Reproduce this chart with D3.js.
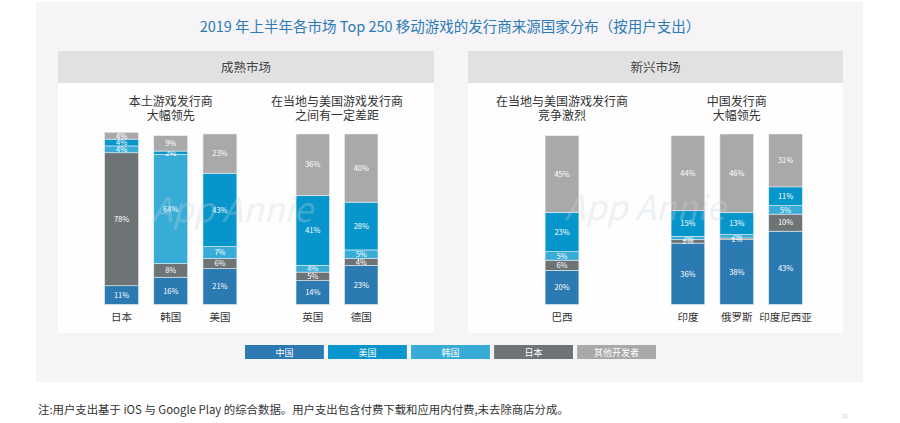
<!DOCTYPE html>
<html><head><meta charset="utf-8">
<script src="https://cdn.jsdelivr.net/npm/d3@7/dist/d3.min.js"></script>
<style>body{margin:0;background:#fff;} text{font-family:"Noto Sans CJK SC","Noto Sans",sans-serif;}</style>
</head><body>
<svg id="c" width="900" height="423"></svg>
<script>
const title = "2019 年上半年各市场 Top 250 移动游戏的发行商来源国家分布（按用户支出）";
const sections = ["成熟市场", "新兴市场"];
const groupTitles = [["本土游戏发行商","大幅领先"],["在当地与美国游戏发行商","之间有一定差距"],["在当地与美国游戏发行商","竞争激烈"],["中国发行商","大幅领先"]];
const groupCats = [["日本","韩国","美国"],["英国","德国"],["巴西"],["印度","俄罗斯","印度尼西亚"]];
const categories = ["日本","韩国","美国","英国","德国","巴西","印度","俄罗斯","印度尼西亚"];
const seriesNames = ["中国","日本","韩国","美国","其他开发者"];
const china = [11,16,21,14,23,20,36,38,43];
const japan = [78,8,6,5,4,6,2,1,10];
const korea = [4,64,7,4,5,5,2,2,5];
const usa   = [4,2,43,41,28,23,15,13,11];
const other = [4,9,23,36,40,45,44,46,31];
const legendNames = ["中国","美国","韩国","日本","其他开发者"];
const footnote = "注:用户支出基于 iOS 与 Google Play 的综合数据。用户支出包含付费下载和应用内付费,未去除商店分成。";

const colors = {"中国":"#2b7ab1","美国":"#0796cb","韩国":"#37acd7","日本":"#6e7476","其他开发者":"#a9a9a9"};
const svg = d3.select("#c");

svg.append("rect").attr("x",36).attr("y",2).attr("width",827).attr("height",380).attr("fill","#f6f4f6");
svg.append("text").attr("x",450).attr("y",32).attr("text-anchor","middle").attr("font-size",14.5).attr("fill","#2b7bb9").text(title);

const panels = [{x0:58,x1:434},{x0:468,x1:843}];
panels.forEach((p,i)=>{
  svg.append("rect").attr("x",p.x0).attr("y",83).attr("width",p.x1-p.x0).attr("height",250).attr("fill","#fefefe");
  svg.append("rect").attr("x",p.x0).attr("y",51).attr("width",p.x1-p.x0).attr("height",32).attr("fill","#e1e1e1");
  svg.append("text").attr("x",(p.x0+p.x1)/2).attr("y",72).attr("text-anchor","middle").attr("font-size",12.5).attr("fill","#444").text(sections[i]);
});

const y = d3.scaleLinear().domain([0,100]).range([304.5,134]);
const groupCenters = [[121.5,220],[313,361],[562,562],[688,785.5]];
const step = 49;
const xPos = {};
const bw = {};
groupCats.forEach((cats,gi)=>{
  const [c0,c1] = groupCenters[gi];
  const sc = d3.scaleBand().domain(cats).range([c0-step/2, c1+step/2]).paddingInner(0.31).paddingOuter(0.155);
  cats.forEach(c=>{ xPos[c]=sc(c); bw[c]=sc.bandwidth(); });
  const cx = (c0+c1)/2;
  groupTitles[gi].forEach((t,k)=>{
    svg.append("text").attr("x",cx).attr("y",106+k*14).attr("text-anchor","middle").attr("font-size",12).attr("fill","#333").text(t);
  });
});

const rows = categories.map((c,i)=>({cat:c,"中国":china[i],"日本":japan[i],"韩国":korea[i],"美国":usa[i],"其他开发者":other[i]}));
const stack = d3.stack().keys(seriesNames)(rows);
stack.forEach(layer=>{
  const g = svg.append("g");
  layer.forEach(d=>{
    const c = d.data.cat;
    g.append("rect").attr("x",xPos[c]).attr("width",bw[c]).attr("y",y(d[1])).attr("height",y(d[0])-y(d[1]))
      .attr("fill",colors[layer.key]).attr("stroke","#e8eef2").attr("stroke-width",0.6);
    g.append("text").attr("x",xPos[c]+bw[c]/2).attr("y",(y(d[0])+y(d[1]))/2+2.8).attr("text-anchor","middle")
      .attr("font-size",7.5).attr("fill","#fff").text((d[1]-d[0])+"%");
  });
});
categories.forEach(c=>{
  svg.append("text").attr("x",xPos[c]+bw[c]/2).attr("y",321).attr("text-anchor","middle").attr("font-size",10.5).attr("fill","#333").text(c);
});

// watermarks (faint, on top like the reference)
[[232,222],[645,220]].forEach(([x,yy])=>{
  svg.append("text").attr("x",x).attr("y",yy).attr("text-anchor","middle").attr("font-size",34).attr("font-style","italic")
    .attr("font-family","Open Sans, sans-serif").attr("fill","#c9d4dd").attr("opacity",0.3).text("App Annie");
});

const lx = d3.scaleBand().domain(legendNames).range([245,656]).paddingInner(0.05);
legendNames.forEach(n=>{
  svg.append("rect").attr("x",lx(n)).attr("y",345).attr("width",lx.bandwidth()).attr("height",14).attr("fill",colors[n]);
  svg.append("text").attr("x",lx(n)+lx.bandwidth()/2).attr("y",355.5).attr("text-anchor","middle").attr("font-size",9).attr("fill","#fff").text(n);
});

svg.append("text").attr("x",38).attr("y",414).attr("font-size",11.4).attr("fill","#333").text(footnote);
svg.append("text").attr("x",842).attr("y",418).attr("font-size",5).attr("fill","#ccc").text("25");
</script>
</body></html>
